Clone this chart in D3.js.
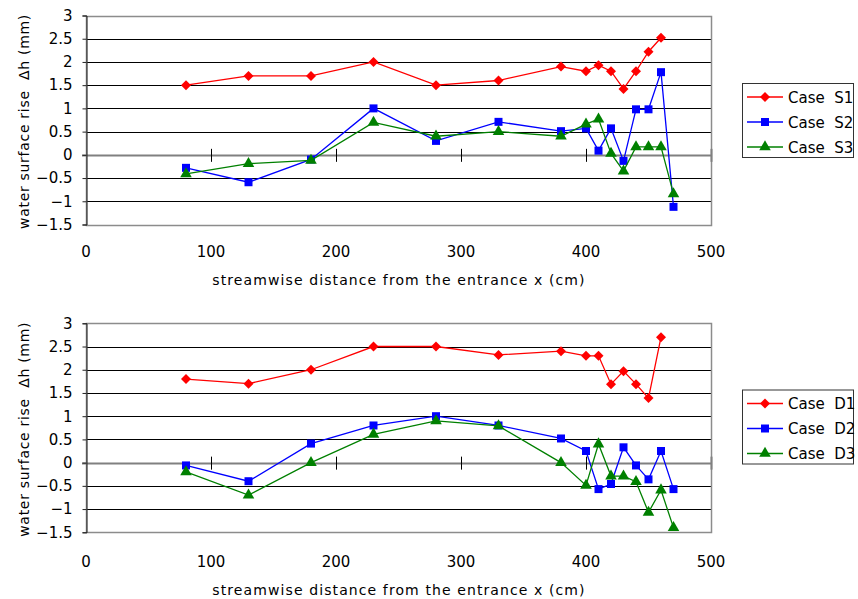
<!DOCTYPE html>
<html>
<head>
<meta charset="utf-8">
<script src="https://cdn.jsdelivr.net/npm/d3@7"></script>
<style>
  body { margin: 0; background: #fff; }
  svg text { font-family: "DejaVu Sans", "Noto Sans CJK JP", sans-serif; fill: #000; white-space: pre; }
</style>
</head>
<body>
<svg id="chart" width="858" height="599"></svg>
<script>
// distances along the channel (cm)
const xs = [80, 130, 180, 230, 280, 330, 380, 400, 410, 420, 430, 440, 450, 460, 470];

// water surface rise (mm)
const caseS1 = [1.5, 1.7, 1.7, 2.0, 1.5, 1.6, 1.9, 1.8, 1.93, 1.8, 1.42, 1.8, 2.22, 2.52];
const caseS2 = [-0.28, -0.59, -0.1, 1.0, 0.3, 0.71, 0.51, 0.57, 0.09, 0.57, -0.13, 0.98, 0.98, 1.78, -1.12];
const caseS3 = [-0.41, -0.19, -0.12, 0.7, 0.4, 0.5, 0.4, 0.66, 0.77, 0.03, -0.35, 0.17, 0.17, 0.17, -0.84];

const caseD1 = [1.8, 1.7, 2.0, 2.5, 2.5, 2.32, 2.4, 2.3, 2.3, 1.69, 1.97, 1.69, 1.39, 2.7];
const caseD2 = [-0.06, -0.4, 0.41, 0.8, 1.0, 0.8, 0.52, 0.25, -0.57, -0.46, 0.33, -0.06, -0.36, 0.25, -0.57];
const caseD3 = [-0.2, -0.7, 0, 0.61, 0.9, 0.79, 0, -0.49, 0.4, -0.29, -0.29, -0.41, -1.07, -0.59, -1.4];

const yTicks = [-1.5, -1, -0.5, 0, 0.5, 1, 1.5, 2, 2.5, 3];
const xTicks = [0, 100, 200, 300, 400, 500];
const xTitle = "streamwise distance from the entrance x (cm)";
const yTitle = "water surface rise  \u0394h (mm)";

const colors = ["#ff0000", "#0000ff", "#008000"];
const shapes = ["diamond", "square", "triangle"];

const panels = [
  { top: 15.5, names: ["Case  S1", "Case  S2", "Case  S3"], series: [caseS1, caseS2, caseS3], legendY: 83, shift: 0 },
  { top: 323.3, names: ["Case  D1", "Case  D2", "Case  D3"], series: [caseD1, caseD2, caseD3], legendY: 389.5, shift: 3 }
];

const svg = d3.select("#chart");
const left = 86, right = 711, plotH = 209;

function symbolPath(shape) {
  if (shape === "diamond") return d3.symbol(d3.symbolSquare, 50)();
  if (shape === "square") return d3.symbol(d3.symbolSquare, 64)();
  return d3.symbol(d3.symbolTriangle, 58)();
}

panels.forEach(p => {
  const g = svg.append("g");
  const x = d3.scaleLinear().domain([0, 500]).range([left, right]);
  const y = d3.scaleLinear().domain([-1.5, 3]).range([p.top + plotH, p.top]);

  // horizontal grid
  g.selectAll("line.grid")
    .data(yTicks.filter(v => v !== 0 && v !== 3 && v !== -1.5))
    .enter().append("line")
    .attr("x1", left).attr("x2", right)
    .attr("y1", d => Math.round(y(d)) + 0.5).attr("y2", d => Math.round(y(d)) + 0.5)
    .attr("stroke", "#000").attr("stroke-width", 1);

  // plot border
  g.append("rect")
    .attr("x", left + 0.5).attr("y", Math.round(p.top) + 0.5)
    .attr("width", right - left).attr("height", Math.round(y(-1.5)) - Math.round(p.top))
    .attr("fill", "none").attr("stroke", "#8c8c8c").attr("stroke-width", 1.5);

  // zero line (x axis crosses here)
  g.append("line")
    .attr("x1", left - 4).attr("x2", right)
    .attr("y1", Math.round(y(0)) + 0.5).attr("y2", Math.round(y(0)) + 0.5)
    .attr("stroke", "#808080").attr("stroke-width", 2.2);

  // x tick marks on the zero line
  g.selectAll("line.xt")
    .data(xTicks.filter(v => v > 0))
    .enter().append("line")
    .attr("x1", d => Math.round(x(d)) + 0.5).attr("x2", d => Math.round(x(d)) + 0.5)
    .attr("y1", y(0) - 6).attr("y2", y(0) + 7)
    .attr("stroke", d => d === 500 ? "#808080" : "#000")
    .attr("stroke-width", d => d === 500 ? 2 : 1);

  // y axis
  const yAxis = d3.axisLeft(y).tickValues(yTicks).tickSize(4).tickPadding(10)
    .tickFormat(d => d3.format("")(d).replace("-", "\u2212"));
  const ya = g.append("g").attr("transform", `translate(${left + 0.5},0)`).call(yAxis);
  ya.select(".domain").attr("stroke", "#222");
  ya.selectAll(".tick line").attr("stroke", "#222");
  ya.selectAll("text").attr("font-size", 15).attr("fill", "#000")
    .attr("font-family", "DejaVu Sans");

  // x labels, shown below the plot
  g.selectAll("text.xl")
    .data(xTicks)
    .enter().append("text")
    .attr("x", d => x(d)).attr("y", y(-1.5) + 32 + p.shift)
    .attr("text-anchor", "middle").attr("font-size", 15)
    .text(d => d);

  g.append("text")
    .attr("x", 399).attr("y", y(-1.5) + 60 + p.shift)
    .attr("text-anchor", "middle").attr("font-size", 14)
    .attr("letter-spacing", 1.1)
    .text(xTitle);

  g.append("text")
    .attr("transform", `translate(29,${p.top + 106}) rotate(-90)`)
    .attr("text-anchor", "middle").attr("font-size", 14)
    .attr("letter-spacing", 0.7)
    .text(yTitle);

  // series
  p.series.forEach((vals, i) => {
    const pts = vals.map((v, j) => [xs[j], v]);
    g.append("path")
      .datum(pts)
      .attr("fill", "none").attr("stroke", colors[i]).attr("stroke-width", 1.3)
      .attr("d", d3.line().x(d => x(d[0])).y(d => y(d[1])));
    g.selectAll(null)
      .data(pts)
      .enter().append("path")
      .attr("d", symbolPath(shapes[i]))
      .attr("transform", d => `translate(${x(d[0])},${y(d[1])})` + (shapes[i] === "diamond" ? " rotate(45)" : ""))
      .attr("fill", colors[i]);
  });

  // legend
  const lg = g.append("g").attr("transform", `translate(742,${p.legendY})`);
  lg.append("rect")
    .attr("x", 0.5).attr("y", 0.5).attr("width", 111).attr("height", 74)
    .attr("fill", "#fff").attr("stroke", "#333").attr("stroke-width", 1);
  p.names.forEach((name, i) => {
    const cy = 14 + i * 25;
    lg.append("line")
      .attr("x1", 5).attr("x2", 41).attr("y1", cy).attr("y2", cy)
      .attr("stroke", colors[i]).attr("stroke-width", 1.3);
    lg.append("path")
      .attr("d", symbolPath(shapes[i]))
      .attr("transform", `translate(23,${cy})` + (shapes[i] === "diamond" ? " rotate(45)" : ""))
      .attr("fill", colors[i]);
    lg.append("text")
      .attr("x", 46).attr("y", cy + 5.5)
      .attr("font-size", 15)
      .text(name);
  });
});
</script>
</body>
</html>
